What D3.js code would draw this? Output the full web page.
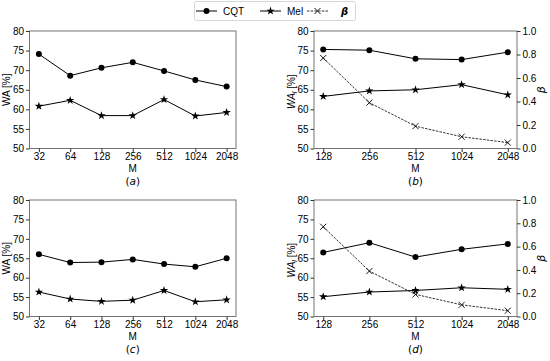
<!DOCTYPE html>
<html>
<head>
<meta charset="utf-8">
<script src="https://cdn.jsdelivr.net/npm/d3@7"></script>
<style>
  body { margin: 0; background: #fff; }
  svg { display: block; font-family: "Liberation Sans", Arial, sans-serif; }
</style>
</head>
<body>
<div id="frame"></div>
<script>
// x categories
let mLong = ["32", "64", "128", "256", "512", "1024", "2048"];
let mShort = ["128", "256", "512", "1024", "2048"];

// panel (a)
let cqtA = [74.1, 68.6, 70.6, 72.0, 69.8, 67.5, 65.8];
let melA = [60.8, 62.3, 58.4, 58.4, 62.5, 58.3, 59.2];
// panel (b)
let cqtB = [75.3, 75.1, 72.9, 72.7, 74.6];
let melB = [63.3, 64.7, 65.0, 66.3, 63.7];
let betaB = [0.77, 0.39, 0.19, 0.10, 0.05];
// panel (c)
let cqtC = [66.0, 63.9, 64.0, 64.7, 63.5, 62.8, 65.0];
let melC = [56.3, 54.5, 53.9, 54.2, 56.7, 53.8, 54.3];
// panel (d)
let cqtD = [66.5, 69.0, 65.3, 67.3, 68.7];
let melD = [55.1, 56.3, 56.7, 57.4, 57.0];
let betaD = [0.77, 0.39, 0.19, 0.10, 0.05];

let waTicks = [50, 55, 60, 65, 70, 75, 80];
let betaTicks = [0, 0.2, 0.4, 0.6, 0.8, 1.0];

let W = 550, H = 361;
let svg = d3.select('#frame').append('svg')
    .attr('width', W).attr('height', H);

let spineColor = '#666';
let fs = '10px';

//panel layout
let panels = [
    { id: 'a', cats: mLong, cqt: cqtA, mel: melA, beta: null, x0: 29.5, x1: 236, y0: 31, y1: 148.5 },
    { id: 'b', cats: mShort, cqt: cqtB, mel: melB, beta: betaB, x0: 314, x1: 517, y0: 31, y1: 148.5 },
    { id: 'c', cats: mLong, cqt: cqtC, mel: melC, beta: null, x0: 29.5, x1: 236, y0: 200, y1: 316.5 },
    { id: 'd', cats: mShort, cqt: cqtD, mel: melD, beta: betaD, x0: 314, x1: 517, y0: 200, y1: 316.5 }
];

let star = d3.symbol().type(d3.symbolStar).size(22);
let cross = d3.symbol().type(d3.symbolX).size(26);

panels.forEach(p => {
    let x = d3.scalePoint()
        .domain(p.cats)
        .range([p.x0, p.x1])
        .padding(0.05 * (p.cats.length - 1));
    let y = d3.scaleLinear().domain([50, 80]).range([p.y1, p.y0]);
    let g = svg.append('g');

    //frame
    g.append('rect')
        .attr('x', p.x0).attr('y', p.y0)
        .attr('width', p.x1 - p.x0).attr('height', p.y1 - p.y0)
        .style('fill', 'none').style('stroke', spineColor).style('stroke-width', 0.9);

    //x axis
    let xa = g.append('g')
        .attr('transform', 'translate(0,' + p.y1 + ')')
        .call(d3.axisBottom(x).tickSize(3.5).tickPadding(1));
    xa.select('.domain').remove();

    //left axis
    let ya = g.append('g')
        .attr('transform', 'translate(' + p.x0 + ',0)')
        .call(d3.axisLeft(y).tickValues(waTicks).tickSize(3.5).tickPadding(2));
    ya.select('.domain').remove();

    [xa, ya].forEach(a => {
        a.selectAll('text').style('font-size', fs).style('font-family', '"Liberation Sans", Arial, sans-serif').attr('fill', '#000');
        a.selectAll('line').style('stroke', '#333');
    });

    //x label
    g.append('text')
        .attr('x', (p.x0 + p.x1) / 2).attr('y', p.y1 + 23.5)
        .attr('text-anchor', 'middle').style('font-size', fs).attr('fill', '#000')
        .text('M');

    //y label
    let yl = g.append('text')
        .attr('transform', 'translate(' + (p.x0 - 19.5) + ',' + ((p.y0 + p.y1) / 2 + (p.beta ? 2 : 0)) + ') rotate(-90)')
        .attr('text-anchor', 'middle').style('font-size', fs).attr('fill', '#000');
    if (p.beta) {
        yl.append('tspan').style('font-style', 'italic').text('WA');
        yl.append('tspan').style('font-style', 'italic').style('font-size', '7px').attr('dy', 2).text('l');
        yl.append('tspan').attr('dy', -2).text(' [%]');
    } else {
        yl.text('WA [%]');
    }

    //caption
    let cap = g.append('text')
        .attr('x', (p.x0 + p.x1) / 2).attr('y', p.y1 + 36)
        .attr('text-anchor', 'middle').attr('fill', '#000')
        .style('font-size', '10.5px').style('font-family', '"DejaVu Sans", sans-serif');
    cap.append('tspan').text('(');
    cap.append('tspan').style('font-style', 'italic').text(p.id);
    cap.append('tspan').text(')');

    let line = d3.line().x((d, i) => x(p.cats[i])).y(d => y(d));

    //CQT
    g.append('path').datum(p.cqt).attr('d', line)
        .style('fill', 'none').style('stroke', '#000').style('stroke-width', 1);
    g.selectAll('.cqt').data(p.cqt).enter().append('circle')
        .attr('cx', (d, i) => x(p.cats[i])).attr('cy', d => y(d)).attr('r', 3)
        .style('fill', '#000');

    //Mel
    g.append('path').datum(p.mel).attr('d', line)
        .style('fill', 'none').style('stroke', '#000').style('stroke-width', 1);
    g.selectAll('.mel').data(p.mel).enter().append('path')
        .attr('d', star)
        .attr('transform', (d, i) => 'translate(' + x(p.cats[i]) + ',' + y(d) + ')')
        .style('fill', '#000');

    if (p.beta) {
        let yr = d3.scaleLinear().domain([0, 1]).range([p.y1, p.y0]);
        let ra = g.append('g')
            .attr('transform', 'translate(' + p.x1 + ',0)')
            .call(d3.axisRight(yr).tickValues(betaTicks).tickFormat(d3.format('.1f')).tickSize(3.5).tickPadding(2));
        ra.select('.domain').remove();
        ra.selectAll('text').style('font-size', fs).style('font-family', '"Liberation Sans", Arial, sans-serif').attr('fill', '#000');
        ra.selectAll('line').style('stroke', '#333');

        g.append('text')
            .attr('transform', 'translate(' + (p.x1 + 28) + ',' + ((p.y0 + p.y1) / 2) + ') rotate(-90)')
            .attr('text-anchor', 'middle').attr('fill', '#000')
            .style('font-size', '11px').style('font-style', 'italic').style('font-family', '"DejaVu Sans", sans-serif')
            .text('β');

        let bline = d3.line().x((d, i) => x(p.cats[i])).y(d => yr(d));
        g.append('path').datum(p.beta).attr('d', bline)
            .style('fill', 'none').style('stroke', '#000').style('stroke-width', 0.8)
            .style('stroke-dasharray', '2.5,1.2');
        g.selectAll('.beta').data(p.beta).enter().append('path')
            .attr('d', cross)
            .attr('transform', (d, i) => 'translate(' + x(p.cats[i]) + ',' + yr(d) + ')')
            .style('fill', 'none').style('stroke', '#000').style('stroke-width', 0.9);
    }
});

//legend
let leg = svg.append('g');
leg.append('rect')
    .attr('x', 194.5).attr('y', 1.5).attr('width', 161).attr('height', 19).attr('rx', 2)
    .style('fill', '#fff').style('stroke', '#ccc').style('stroke-width', 0.8);

let legItems = [
    { label: 'CQT', x: 196, tx: 223, mark: 'circle', dash: null },
    { label: 'Mel', x: 260, tx: 287, mark: 'star', dash: null },
    { label: 'β', x: 307, tx: 341, mark: 'cross', dash: '2.5,1.2' }
];
let ly = 11;
legItems.forEach(it => {
    leg.append('line')
        .attr('x1', it.x).attr('x2', it.x + 21).attr('y1', ly).attr('y2', ly)
        .style('stroke', '#000').style('stroke-width', it.dash ? 0.8 : 1)
        .style('stroke-dasharray', it.dash);
    let cx = it.x + 10.5;
    if (it.mark === 'circle') {
        leg.append('circle').attr('cx', cx).attr('cy', ly).attr('r', 3).style('fill', '#000');
    } else if (it.mark === 'star') {
        leg.append('path').attr('d', star).attr('transform', 'translate(' + cx + ',' + ly + ')').style('fill', '#000');
    } else {
        leg.append('path').attr('d', cross).attr('transform', 'translate(' + cx + ',' + ly + ')')
            .style('fill', 'none').style('stroke', '#000').style('stroke-width', 0.9);
    }
    let t = leg.append('text')
        .attr('x', it.tx).attr('y', ly + 3.6)
        .attr('fill', '#000').style('font-size', fs);
    if (it.mark === 'cross') {
        t.style('font-style', 'italic').style('font-weight', 'bold').style('font-family', '"DejaVu Sans", sans-serif');
    }
    t.text(it.label);
});
</script>
</body>
</html>
